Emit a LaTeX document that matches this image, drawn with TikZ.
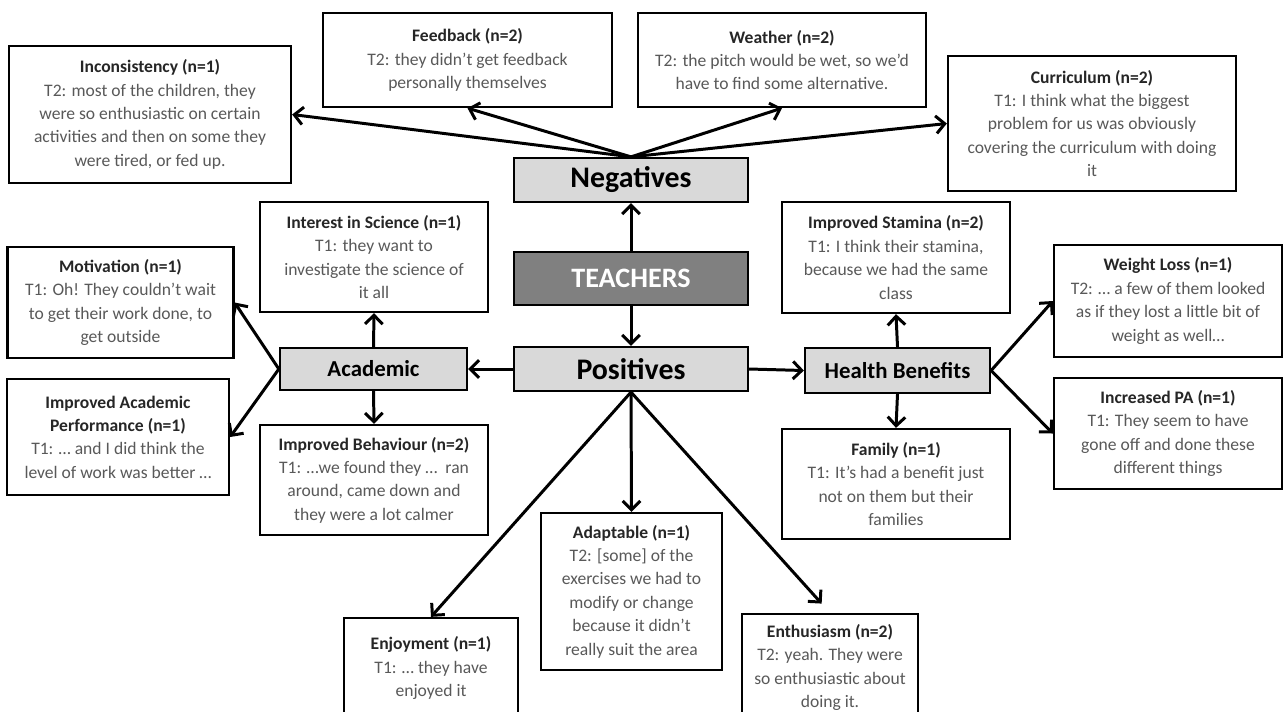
\documentclass[tikz,border=0pt]{standalone}
\usepackage{fontspec}
\setmainfont{Carlito}
\usetikzlibrary{arrows.meta}

\newcommand{\boxtitle}[1]{{\color{black!85}\bfseries #1}}

\begin{document}
\begin{tikzpicture}[x=0.02cm, y=-0.02cm,
    quote/.style 2 args={draw, line width=1.3pt, fill=white, align=center,
        inner sep=0pt, minimum width=#1*0.02cm, minimum height=#2*0.02cm,
        text=black!65, font=\fontsize{10}{13.3}\selectfont},
    theme/.style 2 args={draw, line width=1.3pt, fill=black!15, inner sep=0pt,
        minimum width=#1*0.02cm, minimum height=#2*0.02cm,
        font=\bfseries\fontsize{13}{15}\selectfont},
    branch/.style={theme={234}{44}, font=\bfseries\fontsize{17}{19}\selectfont},
    link/.style={-{Straight Barb[length=5pt,width=10pt]}, line width=1.7pt}]
    \clip (0,0) rectangle (1284,711);

    % Centre column
    \node[branch] (neg) at (631,180) {Negatives};
    \node[theme={234}{53}, fill=black!50, text=white,
        font=\bfseries\fontsize{16}{18}\selectfont] (teach) at (631,278.5) {TEACHERS};
    \node[branch] (pos) at (631,369) {Positives};

    % Negatives
    \node[quote={282}{137}] (incon) at (150,114.5) {\boxtitle{Inconsistency (n=1)}\\
        T2: most of the children, they\\ were so enthusiastic on certain\\
        activities and then on some they\\ were tired, or fed up.};
    \node[quote={289}{94}] (feed) at (467.5,60) {\boxtitle{Feedback (n=2)}\\
        T2: they didn’t get feedback\\ personally themselves};
    \node[quote={288}{94}] (weath) at (782,60) {\boxtitle{Weather (n=2)}\\
        T2: the pitch would be wet, so we’d\\ have to find some alternative.};
    \node[quote={288}{135}] (curr) at (1092,123.5) {\boxtitle{Curriculum (n=2)}\\
        T1: I think what the biggest\\ problem for us was obviously\\
        covering the curriculum with doing\\ it};

    % Academic side
    \node[theme={187}{42}] (acad) at (373.5,369) {Academic};
    \node[quote={228}{110}] (inter) at (374,257) {\boxtitle{Interest in Science (n=1)}\\
        T1: they want to\\ investigate the science of\\ it all};
    \node[quote={226}{111}] (motiv) at (120.5,302.5) {\boxtitle{Motivation (n=1)}\\
        T1: Oh! They couldn’t wait\\ to get their work done, to\\ get outside};
    \node[quote={222}{116}] (iap) at (118,437) {\boxtitle{Improved Academic}\\
        \boxtitle{Performance (n=1)}\\ T1: … and I did think the\\ level of work was better …};
    \node[quote={228}{110}] (behav) at (374,480) {\boxtitle{Improved Behaviour (n=2)}\\
        T1: …we found they …\ \ ran\\ around, came down and\\ they were a lot calmer};

    % Health side
    \node[theme={185}{45}] (hb) at (897.5,370.5) {Health Benefits};
    \node[quote={228}{111}] (stam) at (896,257.5) {\boxtitle{Improved Stamina (n=2)}\\
        T1: I think their stamina,\\ because we had the same\\ class};
    \node[quote={228}{112}] (wl) at (1168,301) {\boxtitle{Weight Loss (n=1)}\\
        T2: … a few of them looked\\ as if they lost a little bit of\\ weight as well…};
    \node[quote={228}{111}] (ipa) at (1168,433.5) {\boxtitle{Increased PA (n=1)}\\
        T1: They seem to have\\ gone off and done these\\ different things};
    \node[quote={228}{110}] (fam) at (896,484) {\boxtitle{Family (n=1)}\\
        T1: It’s had a benefit just\\ not on them but their\\ families};

    % Below Positives
    \node[quote={181}{157}] (adapt) at (631.5,591.5) {\boxtitle{Adaptable (n=1)}\\
        T2: [some] of the\\ exercises we had to\\ modify or change\\
        because it didn’t\\ really suit the area};
    \node[quote={174}{100}] (enj) at (431,668) {\boxtitle{Enjoyment (n=1)}\\
        T1: … they have\\ enjoyed it};
    \node[quote={176}{104}, text depth=0pt] (enth) at (830,666) {\boxtitle{Enthusiasm (n=2)}\\
        T2: yeah. They were\\ so enthusiastic about\\ doing it.};

    % Arrows
    \draw[link] (teach.north) -- (neg.south);
    \draw[link] (teach.south) -- (pos.north);
    \foreach \t in {incon.east, feed.south, weath.south, curr.west}
        \draw[link] (neg.north) -- (\t);
    \draw[link] (pos.west) -- (acad.east);
    \draw[link] (pos.east) -- (hb.west);
    \foreach \s/\t in {north/inter.south, west/motiv.east, west/iap.east, south/behav.north}
        \draw[link] (acad.\s) -- (\t);
    \foreach \s/\t in {north/stam.south, east/wl.west, east/ipa.west, south/fam.north}
        \draw[link] (hb.\s) -- (\t);
    \draw[link] (pos.south) -- (enj.north);
    \draw[link] (pos.south) -- (adapt.north);
    \draw[link, shorten >=0.25cm] (pos.south) -- (enth.north);
\end{tikzpicture}
\end{document}
